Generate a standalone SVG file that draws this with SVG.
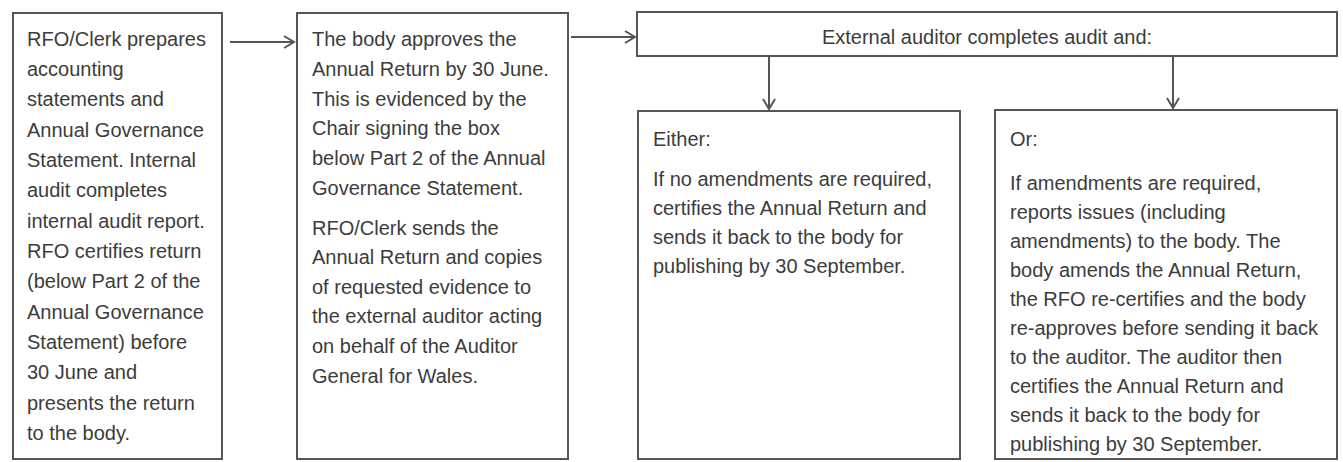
<svg xmlns="http://www.w3.org/2000/svg" width="1343" height="462" viewBox="0 0 1343 462">
<defs>
<style>
.box{fill:#fff;stroke:#555;stroke-width:2}
.t{font-family:"Liberation Sans",Arial,sans-serif;font-size:20px;fill:#3c3c3c}
.c{fill:none;stroke:#555;stroke-width:2}
</style>
<marker id="ah" markerWidth="14" markerHeight="14" refX="11" refY="7" orient="auto" markerUnits="userSpaceOnUse">
<path d="M1,1 L11,7 L1,13" fill="none" stroke="#555" stroke-width="2"/>
</marker>
</defs>
<rect width="1343" height="462" fill="#fff"/>
<g id="node-prepare">
<rect class="box" x="13" y="13" width="209" height="446"/>
<text class="t" x="27">
<tspan x="27" y="46">RFO/Clerk prepares</tspan>
<tspan x="27" y="76">accounting</tspan>
<tspan x="27" y="106">statements and</tspan>
<tspan x="27" y="137">Annual Governance</tspan>
<tspan x="27" y="167">Statement. Internal</tspan>
<tspan x="27" y="197">audit completes</tspan>
<tspan x="27" y="228">internal audit report.</tspan>
<tspan x="27" y="258">RFO certifies return</tspan>
<tspan x="27" y="288">(below Part 2 of the</tspan>
<tspan x="27" y="319">Annual Governance</tspan>
<tspan x="27" y="349">Statement) before</tspan>
<tspan x="27" y="379">30 June and</tspan>
<tspan x="27" y="410">presents the return</tspan>
<tspan x="27" y="440">to the body.</tspan>
</text>
</g>
<g id="node-approve">
<rect class="box" x="297" y="13" width="271" height="446"/>
<text class="t">
<tspan x="312" y="46">The body approves the</tspan>
<tspan x="312" y="76">Annual Return by 30 June.</tspan>
<tspan x="312" y="106">This is evidenced by the</tspan>
<tspan x="312" y="135">Chair signing the box</tspan>
<tspan x="312" y="165">below Part 2 of the Annual</tspan>
<tspan x="312" y="195">Governance Statement.</tspan>
<tspan x="312" y="235">RFO/Clerk sends the</tspan>
<tspan x="312" y="264">Annual Return and copies</tspan>
<tspan x="312" y="294">of requested evidence to</tspan>
<tspan x="312" y="323">the external auditor acting</tspan>
<tspan x="312" y="353">on behalf of the Auditor</tspan>
<tspan x="312" y="383">General for Wales.</tspan>
</text>
</g>
<g id="node-audit">
<rect class="box" x="637" y="12" width="700" height="44"/>
<text class="t" x="987" y="44" text-anchor="middle">External auditor completes audit and:</text>
</g>
<g id="node-either">
<rect class="box" x="638" y="111" width="322" height="348"/>
<text class="t">
<tspan x="653" y="146">Either:</tspan>
<tspan x="653" y="186">If no amendments are required,</tspan>
<tspan x="653" y="215">certifies the Annual Return and</tspan>
<tspan x="653" y="244">sends it back to the body for</tspan>
<tspan x="653" y="273">publishing by 30 September.</tspan>
</text>
</g>
<g id="node-or">
<rect class="box" x="995" y="110" width="342" height="349"/>
<text class="t">
<tspan x="1010" y="146">Or:</tspan>
<tspan x="1010" y="190">If amendments are required,</tspan>
<tspan x="1010" y="219">reports issues (including</tspan>
<tspan x="1010" y="248">amendments) to the body. The</tspan>
<tspan x="1010" y="277">body amends the Annual Return,</tspan>
<tspan x="1010" y="306">the RFO re-certifies and the body</tspan>
<tspan x="1010" y="335">re-approves before sending it back</tspan>
<tspan x="1010" y="364">to the auditor. The auditor then</tspan>
<tspan x="1010" y="393">certifies the Annual Return and</tspan>
<tspan x="1010" y="422">sends it back to the body for</tspan>
<tspan x="1010" y="451">publishing by 30 September.</tspan>
</text>
</g>
<g id="connectors">
<line class="c" x1="230" y1="42" x2="294" y2="42" marker-end="url(#ah)"/>
<line class="c" x1="571" y1="37" x2="635" y2="37" marker-end="url(#ah)"/>
<line class="c" x1="769" y1="57" x2="769" y2="109" marker-end="url(#ah)"/>
<line class="c" x1="1173" y1="57" x2="1173" y2="108" marker-end="url(#ah)"/>
</g>
</svg>
